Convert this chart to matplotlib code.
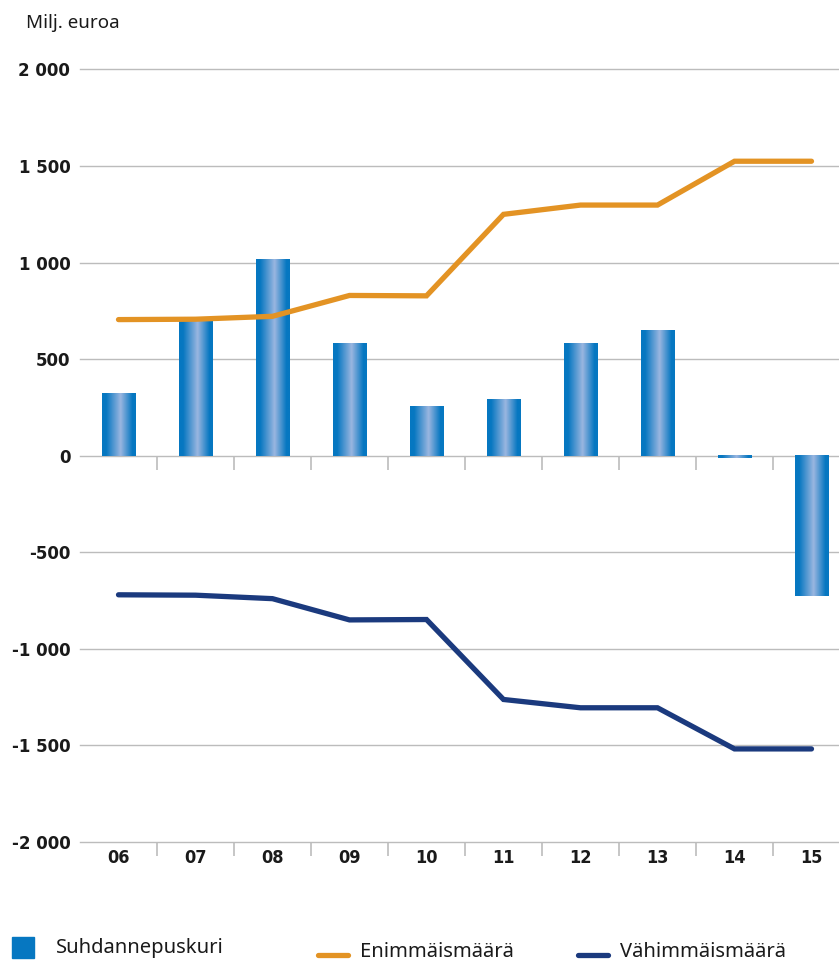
import numpy as np
import matplotlib
matplotlib.use("Agg")
import matplotlib.pyplot as plt
from matplotlib.colors import LinearSegmentedColormap
from matplotlib.patches import Rectangle
from matplotlib.lines import Line2D

# ---- data ----
years = ["06", "07", "08", "09", "10", "11", "12", "13", "14", "15"]
suhdannepuskuri = [322, 700, 1020, 585, 255, 295, 580, 650, -12, -725]
enimmaismaara = [705, 707, 722, 830, 828, 1250, 1298, 1298, 1525, 1525]
vahimmaismaara = [-720, -722, -740, -850, -848, -1262, -1305, -1305, -1518, -1518]
yticks = [2000, 1500, 1000, 500, 0, -500, -1000, -1500, -2000]
ytick_labels = ["2 000", "1 500", "1 000", "500", "0", "-500", "-1 000", "-1 500", "-2 000"]

BAR_DARK = "#0677c1"
BAR_LIGHT = "#9ab6e0"
ORANGE = "#e39324"
NAVY = "#1b3a7e"
GRID = "#bcbcbc"
TXT = "#1a1a1a"

W, H = 839, 963
fig = plt.figure(figsize=(W / 100, H / 100), dpi=100)
ax = fig.add_axes([80 / W, 1 - 842 / H, 1 - 80 / W, (842 - 69.5) / H])

x = np.arange(len(years))
bw = 0.43
cmap = LinearSegmentedColormap.from_list(
    "bar", [(0, BAR_DARK), (0.12, BAR_DARK), (0.55, BAR_LIGHT), (0.9, BAR_DARK), (1, BAR_DARK)])
grad = np.linspace(0, 1, 128).reshape(1, -1)
for xi, v in zip(x, suhdannepuskuri):
    lo, hi = min(0, v), max(0, v)
    ax.imshow(grad, extent=[xi - bw / 2, xi + bw / 2, lo, hi], aspect="auto",
              cmap=cmap, interpolation="bilinear", zorder=2)

ax.plot(x, enimmaismaara, color=ORANGE, lw=3.8, solid_capstyle="round",
        solid_joinstyle="miter", zorder=3)
ax.plot(x, vahimmaismaara, color=NAVY, lw=3.8, solid_capstyle="round",
        solid_joinstyle="miter", zorder=3)

ax.set_xlim(-0.5, (839 - 80) / 77 - 0.5)
ax.set_ylim(-2000, 2000)

for yv in yticks:
    ax.axhline(yv, color=GRID, lw=1.0, zorder=1, clip_on=False)

for s in ax.spines.values():
    s.set_visible(False)

ax.set_yticks(yticks)
ax.set_yticklabels(ytick_labels, fontsize=12, fontweight="bold",
                   family="DejaVu Sans", color=TXT)
ax.tick_params(axis="y", length=0, pad=7)

ax.set_xticks(x)
ax.set_xticklabels(years, fontsize=13, fontweight="bold", family="DejaVu Sans",
                   fontstretch="condensed", color=TXT)
ax.set_xticks(x[:-1] + 0.5, minor=True)
ax.tick_params(axis="x", which="major", length=0, pad=5)
ax.tick_params(axis="x", which="minor", length=10, width=1.2, color=GRID, direction="out")

sec = ax.secondary_xaxis(0.5)
sec.set_xticks(x[:-1] + 0.5)
sec.set_xticklabels([])
sec.tick_params(axis="x", length=10, width=1.2, color=GRID, direction="in")
for s in sec.spines.values():
    s.set_visible(False)

fig.text(26 / W, 1 - 23 / H, "Milj. euroa", fontsize=13.5,
         family=["Noto Sans", "DejaVu Sans"], va="center", ha="left", color=TXT)

# legend (manual)
leg_font = dict(fontsize=14.5, family=["Noto Sans", "DejaVu Sans"], color=TXT,
                va="center", ha="left")
fig.add_artist(Rectangle((12 / W, 1 - 958 / H), 22 / W, 21 / H,
                         transform=fig.transFigure, color=BAR_DARK))
fig.text(56 / W, 1 - 948 / H, "Suhdannepuskuri", **leg_font)
fig.add_artist(Line2D([318 / W, 348 / W], [1 - 955 / H, 1 - 955 / H],
                      transform=fig.transFigure, color=ORANGE, lw=3.8,
                      solid_capstyle="round"))
fig.text(360 / W, 1 - 952 / H, "Enimmäismäärä", **leg_font)
fig.add_artist(Line2D([578 / W, 608 / W], [1 - 955 / H, 1 - 955 / H],
                      transform=fig.transFigure, color=NAVY, lw=3.8,
                      solid_capstyle="round"))
fig.text(620 / W, 1 - 952 / H, "Vähimmäismäärä", **leg_font)

fig.savefig("out.png", dpi=100)
